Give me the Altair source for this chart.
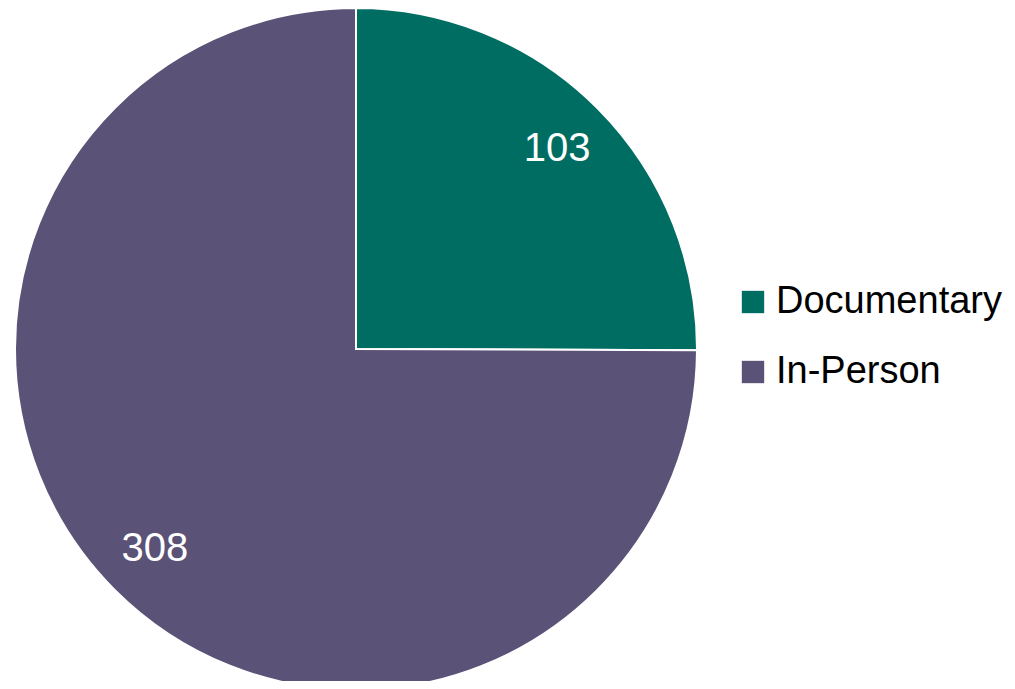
import altair as alt
import pandas as pd

categories = ["Documentary", "In-Person"]
values = [103, 308]
colors = ["#006D62", "#5B5277"]
order = [0, 1]

df = pd.DataFrame({"category": categories, "value": values, "order": order})

FONT = "Liberation Sans, Arial, sans-serif"
CX, CY, R = 348, 341, 341

base = alt.Chart(df).encode(
    theta=alt.Theta("value:Q", stack=True),
    order=alt.Order("order:Q"),
    x=alt.value(CX),
    y=alt.value(CY),
)

pie = base.mark_arc(outerRadius=R, stroke="white", strokeWidth=2).encode(
    color=alt.Color(
        "category:N",
        scale=alt.Scale(domain=categories, range=colors),
        legend=alt.Legend(
            title=None,
            orient="none",
            legendX=726,
            legendY=275,
            symbolType="square",
            symbolSize=500,
            symbolStrokeWidth=0,
            labelFont=FONT,
            labelFontSize=38,
            labelColor="#000000",
            labelLimit=400,
            rowPadding=32,
            labelOffset=4,
            padding=0,
        ),
    )
)

labels = base.mark_text(radius=284, font=FONT, fontSize=40, color="white").encode(
    text="value:Q"
)

chart = (
    (pie + labels)
    .properties(
        width=999,
        height=673,
        padding=0,
        background="white",
        autosize=alt.AutoSizeParams(type="none"),
    )
    .configure_view(stroke=None)
)

chart.save("out.html", embed_options={"renderer": "svg", "actions": False})
